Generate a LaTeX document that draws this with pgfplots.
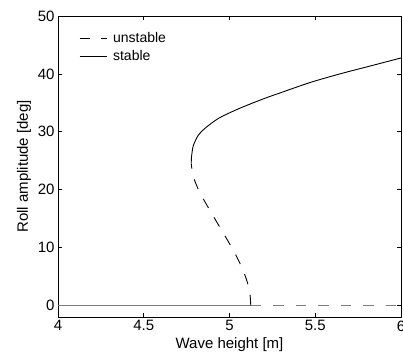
\documentclass[border=0pt]{standalone}
\usepackage{fontspec}
\setmainfont{Liberation Sans}
\usepackage{pgfplots}
\pgfplotsset{compat=1.18}
\definecolor{zerogray}{RGB}{125,125,125}
\begin{document}
\begin{tikzpicture}
\begin{axis}[
  scale only axis,
  width=343pt, height=301pt,
  xmin=4, xmax=6, ymin=-2, ymax=50,
  xtick={4,4.5,5,5.5,6},
  ytick={0,10,20,30,40,50},
  tick align=inside,
  major tick length=4pt,
  axis line style={line width=0.9pt},
  every tick/.style={black, line width=0.6pt},
  /pgf/number format/assume math mode=true,
  tick label style={font=\fontsize{15}{18}\selectfont},
  label style={font=\fontsize{15}{18}\selectfont},
  xlabel={Wave height [m]},
  ylabel={Roll amplitude [deg]},
  legend style={at={(axis description cs:0,1)}, anchor=north west,
    xshift=18pt, yshift=-12pt, draw=none, fill=none,
    font=\fontsize{14}{16}\selectfont, row sep=3pt},
  legend cell align=left,
  legend image code/.code={\draw[#1] (0pt,0pt) -- (27pt,0pt); \path (31pt,0pt);},
]
\addplot[zerogray, line width=1.1pt, forget plot] coordinates {(4,0) (5.124,0)};
\addplot[zerogray, line width=1.1pt, dash pattern=on 10.5pt off 12pt, forget plot] coordinates {(5.124,0) (6,0)};
\addplot[black, line width=0.9pt, dash pattern=on 10.5pt off 11pt, smooth] coordinates {
(5.124,0) (5.119,2) (5.104,4) (5.080,6) (5.049,8) (5.013,10) (4.974,12)
(4.934,14) (4.894,16) (4.855,18) (4.819,20) (4.792,22) (4.781,23.5) (4.777,24.5)
};
\addlegendentry{unstable}
\addplot[black, line width=0.9pt, smooth] coordinates {
(4.777,24.5) (4.778,25.5) (4.783,26.7) (4.790,27.7) (4.818,29.4) (4.857,30.6)
(4.935,32.3) (5.032,33.7) (5.129,34.9) (5.226,36.0) (5.294,36.7) (5.469,38.5)
(5.644,40.0) (5.819,41.35) (6.0,42.75)
};
\addlegendentry{stable}
\end{axis}
\pgfresetboundingbox
\path (-58pt,-43pt) rectangle (345pt,317pt);
\end{tikzpicture}
\end{document}
